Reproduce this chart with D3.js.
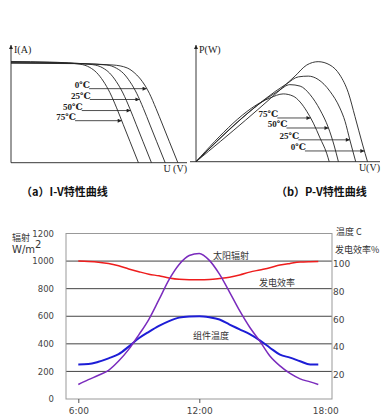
<!DOCTYPE html>
<html>
<head>
<meta charset="utf-8">
<script src="https://cdn.jsdelivr.net/npm/d3@7"></script>
<style>
  body { margin: 0; background: #fff; }
  svg { display: block; }
</style>
</head>
<body>
<div id="chart-area"></div>
<script>
// ---------------------------//
//            DATA            //
// ---------------------------//

// top left: I-V curves, [U, I] pairs
const iv0  = [[0,8.45],[18,8.42],[29,8.3],[33,8.05],[35.2,7.6],[37.3,6.9],[39.3,5.9],[41.2,4.6],[43.1,3.2],[45,1.78],[47.4,0]];
const iv25 = [[0,8.5],[16,8.45],[27.2,8.3],[30,8.02],[31.9,7.6],[33.8,6.88],[35.7,5.9],[37.6,4.62],[39.5,3.2],[41.4,1.78],[43.8,0]];
const iv50 = [[0,8.55],[14,8.5],[23.2,8.33],[26.1,8.05],[28,7.62],[29.9,6.9],[31.8,5.92],[33.7,4.64],[35.6,3.22],[37.5,1.79],[39.9,0]];
const iv75 = [[0,8.6],[11,8.55],[19.6,8.37],[22.4,8.09],[24.3,7.66],[26.2,6.94],[28.1,5.95],[30,4.66],[31.9,3.23],[33.8,1.8],[36.2,0]];
const tempLabels = ["0℃", "25℃", "50℃", "75℃"];
const ivArrowI = [6.29, 5.37, 4.43, 3.57];
const ivArrowFromU = [22.2, 22.4, 20.1, 18.2];

// top right: P-V curves, [U, P] pairs
const pv0  = [[0,0],[26.9,231],[30.1,261],[33.2,270],[36.4,261],[39.1,234],[41.4,186],[43.2,122],[45.3,45],[46.6,0]];
const pv25 = [[0,0],[24.6,210],[27.8,229],[30.5,231],[33.2,222],[36.4,190],[39.1,145],[40.5,109],[41.8,59],[43.4,0]];
const pv50 = [[0,0],[22.4,191],[25.5,208],[28.3,204],[31,181],[33.7,140],[36,91],[37.5,45],[38.7,0]];
const pv75 = [[0,0],[20.1,172],[23.7,183],[26.4,177],[28.3,161],[30.1,136],[31.9,104],[33.7,64],[35.5,23],[36.2,0]];
const pvArrowP = [29, 59, 91, 118];
const pvArrowFromU = [29.6, 27.8, 24.6, 22.1];

// bottom: daily curves
const hours      = [6, 6.5, 7, 7.5, 8, 8.5, 9, 9.5, 10, 10.5, 11, 11.5, 12, 12.5, 13, 13.5, 14, 14.5, 15, 15.5, 16, 16.5, 17, 17.5, 17.9];
const radiation  = [105, 140, 172, 208, 275, 360, 465, 578, 720, 865, 975, 1040, 1055, 1005, 905, 775, 640, 520, 420, 312, 240, 185, 146, 124, 105];
const moduleTemp = [25, 25.3, 27, 29.5, 32.5, 38, 44, 48.7, 53, 56.5, 59, 59.8, 60, 59.2, 57.6, 54, 50.5, 47, 42.5, 37.2, 32.2, 30, 27.4, 25, 25];
const efficiency = [100, 99.7, 99.2, 98.3, 96.6, 94.3, 92.3, 90.5, 89.3, 87.8, 86.8, 86.5, 86.5, 86.7, 87.4, 88.3, 89.9, 92, 93.6, 95.2, 97.1, 98.3, 99.3, 99.6, 99.7];
const leftTicks  = [0, 200, 400, 600, 800, 1000, 1200];
const rightTicks = [20, 40, 60, 80, 100];
const timeTicks  = [6, 12, 18];

const WIDTH = 385, HEIGHT = 418;

const svg = d3.select("#chart-area").append("svg")
    .attr("width", WIDTH)
    .attr("height", HEIGHT);

const defs = svg.append("defs");
defs.append("marker")
    .attr("id", "arrow")
    .attr("viewBox", "0 0 10 10")
    .attr("refX", 10).attr("refY", 5)
    .attr("markerWidth", 5).attr("markerHeight", 4)
    .attr("markerUnits", "userSpaceOnUse")
    .attr("orient", "auto")
    .append("path")
    .attr("d", "M0,0L10,5L0,10z")
    .attr("fill", "#222");

const SERIF = "'Liberation Serif', 'DejaVu Serif', serif";
const CJK = "'Noto Sans CJK SC', 'Noto Sans', sans-serif";

// find U where a curve crosses a level, searching from the end (falling side)
function crossU(curve, level) {
    for (let i = curve.length - 1; i > 0; i--) {
        const a = curve[i - 1], b = curve[i];
        if ((a[1] - level) * (b[1] - level) <= 0 && a[1] !== b[1]) {
            return a[0] + (level - a[1]) * (b[0] - a[0]) / (b[1] - a[1]);
        }
    }
    return curve[curve.length - 1][0];
}

// ---------------------------//
//        TOP PANELS          //
// ---------------------------//

function panel(opts) {
    const g = svg.append("g");
    const x = opts.x, y = opts.y;
    const line = d3.line()
        .x(d => x(d[0]))
        .y(d => y(d[1]))
        .curve(d3.curveMonotoneX);

    // axes
    g.append("line")
        .attr("x1", x(0)).attr("x2", x(0))
        .attr("y1", y(0)).attr("y2", y.range()[1])
        .attr("stroke", "#222").attr("stroke-width", 0.9)
        .attr("marker-end", "url(#arrow)");
    g.append("line")
        .attr("x1", opts.axisLeft).attr("x2", x.range()[1])
        .attr("y1", y(0)).attr("y2", y(0))
        .attr("stroke", "#222").attr("stroke-width", 0.9);

    g.selectAll(".curve")
        .data(opts.curves)
        .enter()
        .append("path")
        .attr("d", line)
        .attr("fill", "none")
        .attr("stroke", "#222")
        .attr("stroke-width", 0.9);

    // labels with arrows
    opts.curves.forEach((c, i) => {
        const lv = opts.levels[i];
        const x0 = x(opts.fromU[i]), yy = y(lv), x1 = x(crossU(c, lv));
        g.append("line")
            .attr("x1", x0).attr("x2", x1)
            .attr("y1", yy).attr("y2", yy)
            .attr("stroke", "#222").attr("stroke-width", 0.8)
            .attr("marker-end", "url(#arrow)");
        g.append("text")
            .attr("x", x0 + 1).attr("y", yy - 0.5)
            .attr("text-anchor", "end")
            .style("font-family", SERIF)
            .style("font-size", "9px")
            .style("font-weight", "bold")
            .attr("fill", "#222")
            .text(tempLabels[i]);
    });

    g.append("text")
        .attr("x", x(0) + 3).attr("y", y.range()[1] + 8)
        .style("font-family", SERIF).style("font-size", "10px")
        .attr("fill", "#222")
        .text(opts.yTitle);
    g.append("text")
        .attr("x", x.range()[1]).attr("y", y(0) + 9)
        .attr("text-anchor", "end")
        .style("font-family", SERIF).style("font-size", "10px")
        .attr("fill", "#222")
        .text(opts.xTitle);
    g.append("text")
        .attr("x", opts.capX).attr("y", 195.5)
        .style("font-family", CJK).style("font-size", "11px")
        .style("font-weight", "bold")
        .attr("fill", "#111")
        .text(opts.caption);
}

panel({
    x: d3.scaleLinear().domain([0, 50]).range([11, 187]),
    y: d3.scaleLinear().domain([0, 10]).range([162.7, 45]),
    axisLeft: 11,
    curves: [iv0, iv25, iv50, iv75],
    levels: ivArrowI,
    fromU: ivArrowFromU,
    yTitle: "I(A)",
    xTitle: "U (V)",
    caption: "（a）I-V特性曲线",
    capX: 21
});

panel({
    x: d3.scaleLinear().domain([0, 50]).range([196, 380]),
    y: d3.scaleLinear().domain([0, 315]).range([161.7, 45]),
    axisLeft: 190,
    curves: [pv0, pv25, pv50, pv75],
    levels: pvArrowP,
    fromU: pvArrowFromU,
    yTitle: "P(W)",
    xTitle: "U(V)",
    caption: "（b）P-V特性曲线",
    capX: 276
});

// ---------------------------//
//        BOTTOM CHART        //
// ---------------------------//

const xScale = d3.scaleLinear().domain([6, 18]).range([78.3, 320.3]);
const yLeft = d3.scaleLinear().domain([0, 1200]).range([399, 233.5]);
const yRight = d3.scaleLinear().domain([0, 120]).range([399, 233.5]);
const BOX = {left: 66, right: 332};

const chart = svg.append("g");

// grid lines
chart.selectAll(".grid")
    .data(leftTicks.filter(d => d > 0 && d < 1200))
    .enter()
    .append("line")
    .attr("x1", BOX.left).attr("x2", BOX.right)
    .attr("y1", d => yLeft(d)).attr("y2", d => yLeft(d))
    .attr("stroke", "#444").attr("stroke-width", 1);

// frame
chart.append("rect")
    .attr("x", BOX.left).attr("y", yLeft(1200))
    .attr("width", BOX.right - BOX.left)
    .attr("height", yLeft(0) - yLeft(1200))
    .attr("fill", "none")
    .attr("stroke", "#999").attr("stroke-width", 1);

// left axis
const leftAxis = chart.append("g")
    .attr("transform", `translate(${BOX.left - 12},0)`)
    .call(d3.axisLeft(yLeft).tickValues(leftTicks).tickSize(0).tickPadding(0)
        .tickFormat(d3.format("d")));
leftAxis.select(".domain").remove();
leftAxis.selectAll("text")
    .style("font-family", "'DejaVu Sans', sans-serif")
    .style("font-size", "8.5px")
    .attr("fill", "#444");

// right axis
const rightAxis = chart.append("g")
    .attr("transform", `translate(${BOX.right + 1},3)`)
    .call(d3.axisRight(yRight).tickValues(rightTicks).tickSize(0).tickPadding(0));
rightAxis.select(".domain").remove();
rightAxis.selectAll("text")
    .style("font-family", "'DejaVu Sans', sans-serif")
    .style("font-size", "9px")
    .attr("fill", "#444");

// bottom axis
const bottomAxis = chart.append("g")
    .attr("transform", `translate(0,${yLeft(0)})`)
    .call(d3.axisBottom(xScale).tickValues(timeTicks).tickSize(4).tickPadding(5)
        .tickFormat(d => d + ":00"));
bottomAxis.select(".domain").remove();
bottomAxis.selectAll("line").attr("stroke", "#555");
bottomAxis.selectAll(".tick").filter(d => d === 18).select("line").remove();
bottomAxis.selectAll("text")
    .style("font-family", "'DejaVu Sans', sans-serif")
    .style("font-size", "9px")
    .attr("fill", "#444");
bottomAxis.selectAll(".tick").filter(d => d === 18).select("text").attr("x", 5);

// series
const series = [
    {values: efficiency, scale: yRight, color: "#ee1d1d", width: 1.5},
    {values: moduleTemp, scale: yRight, color: "#1d1dd6", width: 2},
    {values: radiation, scale: yLeft, color: "#7a2bbd", width: 1.5}
];

series.forEach(s => {
    const line = d3.line()
        .x((d, i) => xScale(hours[i]))
        .y(d => s.scale(d))
        .curve(d3.curveMonotoneX);
    chart.append("path")
        .datum(s.values)
        .attr("d", line)
        .attr("fill", "none")
        .attr("stroke", s.color)
        .attr("stroke-width", s.width);
});

// annotations
const notes = [
    {text: "太阳辐射", x: 213, y: 259},
    {text: "发电效率", x: 259, y: 286},
    {text: "组件温度", x: 193, y: 339},
    {text: "辐射", x: 12, y: 241},
    {text: "温度 C", x: 336, y: 235},
    {text: "发电效率%", x: 335, y: 253}
];
chart.selectAll(".note")
    .data(notes)
    .enter()
    .append("text")
    .attr("x", d => d.x).attr("y", d => d.y)
    .style("font-family", CJK)
    .style("font-size", "9px")
    .attr("fill", "#333")
    .text(d => d.text);

const unit = chart.append("text")
    .attr("x", 12).attr("y", 253)
    .style("font-family", "'DejaVu Sans', sans-serif")
    .style("font-size", "10px")
    .attr("fill", "#333");
unit.append("tspan").text("W/m");
unit.append("tspan").attr("dy", -5).style("font-size", "10px").text("2");
</script>
</body>
</html>
